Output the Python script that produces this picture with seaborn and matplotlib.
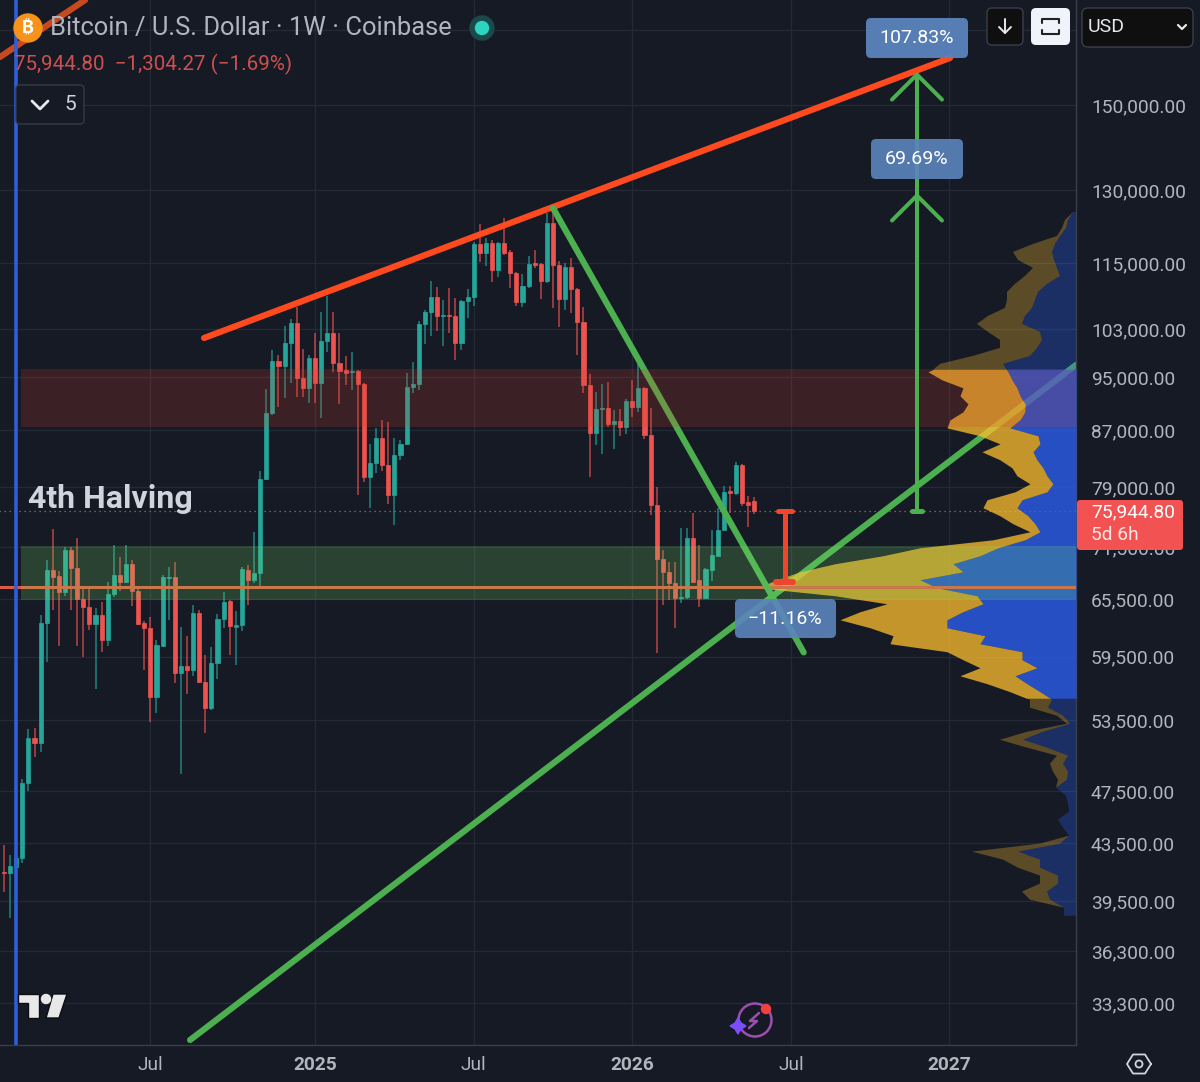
import numpy as np
import matplotlib
matplotlib.use("Agg")
import matplotlib.pyplot as plt
import matplotlib.patches as mp
import seaborn as sb

BG = "#161a25"
GRID = "#252935"
AXIS = "#3a3e4a"
TXT = "#b2b5be"
UP = "#26a69a"
DOWN = "#ef5350"
GREEN = "#4caf50"
REDLINE = "#ff4a1f"
LABEL = "#5b84bd"

# weekly candles, first bar is the week of 15 Jan 2024
opens = [41500, 41420, 41840, 42480, 48170, 51930, 51500, 62970, 68820, 68130, 66300, 71170, 69050, 65560, 64690,
         62870, 63830, 61210, 66110, 68250, 67450, 69520, 66450, 62970, 62450, 55630, 60600, 67900, 68020, 57910,
         58600, 58200, 64040, 57050, 54620, 58900, 63400, 65340, 62550, 62760, 68820, 67680, 68480, 80150, 89530,
         97680, 96870, 100670, 104100, 94940, 93360, 98170, 94150, 101010, 102370, 97350, 96220, 95900, 96060, 93990,
         80430, 82340, 85860, 82060, 78040, 83450, 85000, 93510, 93990, 103930, 106040, 108740, 105330, 105500, 105330,
         100670, 108010, 108740, 118830, 117060, 119030, 113770, 119030, 117250, 113200, 107830, 110760, 115120, 114920, 111690,
         123080, 114730, 108380, 114340, 110200, 104280, 93830, 86580, 90130, 90290, 87900, 88340, 87450, 91350, 90440,
         93360, 86300, 76740, 70100, 68590, 67340, 65670, 65780, 72610, 67680, 65670, 68820, 70460, 73600, 78560,
         78300, 82060, 77130, 77249]
highs = [43420, 42700, 42700, 48490, 52720, 52810, 63830, 69990, 73720, 68700, 71530, 71530, 72610, 66780, 66780,
         64580, 65230, 67450, 71770, 70340, 71770, 69990, 66780, 63180, 63610, 61210, 68250, 69120, 69750, 62550,
         61620, 64900, 64360, 59690, 60500, 63940, 66340, 65450, 64250, 69120, 69400, 73350, 81240, 93200, 99500,
         98670, 103580, 104800, 106930, 99660, 98670, 102370, 106040, 108920, 106040, 102370, 98500, 99160, 96220, 94150,
         85000, 87310, 88490, 88190, 85860, 85500, 95740, 97520, 104450, 106400, 111690, 110570, 108190, 110390, 108560,
         108190, 110200, 119230, 122880, 120030, 119630, 119230, 124120, 117640, 113300, 113010, 116470, 117640, 115120, 125160,
         125160, 115500, 115120, 116080, 110390, 106930, 95580, 92730, 93990, 94310, 89980, 90130, 91660, 94620, 97350,
         93500, 90290, 79090, 71170, 69750, 69750, 73850, 73850, 75710, 71770, 69050, 73600, 76360, 79220, 79220,
         82470, 82200, 77910, 77780]
lows = [40130, 38410, 41630, 42130, 47530, 50320, 50740, 58990, 64360, 60600, 65890, 64360, 60600, 59490, 62240,
        56390, 59990, 60600, 65780, 66450, 67340, 64790, 62760, 58200, 53350, 54160, 60500, 63290, 56950, 48910,
        55910, 57620, 56950, 52370, 54440, 57330, 62450, 59690, 58700, 62140, 64900, 67340, 66780, 80020, 89230,
        90440, 91810, 94150, 91970, 91970, 91040, 91040, 88780, 99160, 95900, 90890, 93830, 93050, 78040, 79760,
        76360, 80970, 81240, 76870, 74220, 82750, 84800, 92580, 93050, 100500, 101860, 102710, 100170, 102370, 97840,
        99500, 104980, 107110, 115310, 114530, 111500, 112440, 116660, 110390, 107110, 106930, 110390, 114150, 108380, 111320,
        106750, 103410, 106400, 105860, 98670, 92580, 80430, 84860, 83590, 87450, 84290, 86150, 86440, 88930, 89680,
        85710, 75470, 59890, 64900, 65450, 62450, 65120, 65560, 67340, 64690, 65560, 67570, 70400, 73550, 75710,
        78040, 76620, 73970, 75600]
closes = [41420, 41910, 42480, 48170, 51930, 51500, 62970, 68820, 68020, 66300, 71170, 69050, 65560, 64690, 62870,
          63830, 61210, 66110, 68250, 67450, 69520, 66450, 62870, 62450, 55630, 60700, 68020, 68020, 57910, 58600,
          58200, 64040, 57050, 54620, 58900, 63400, 65230, 62660, 62760, 68940, 67680, 68480, 80150, 89530, 97680,
          96870, 100670, 104100, 94940, 93360, 98170, 94150, 101010, 102370, 97350, 96060, 95740, 96060, 93990, 80430,
          82340, 85860, 82060, 78040, 83450, 85000, 93510, 93990, 103930, 106040, 108740, 105330, 105500, 105330, 100670,
          108010, 108740, 118830, 117060, 119030, 113770, 119030, 117060, 113200, 107830, 110760, 114920, 114730, 111690, 123080,
          114730, 108380, 114340, 110200, 104280, 93830, 86580, 90130, 90290, 87900, 88340, 87450, 91350, 90440, 93360,
          86300, 76740, 70100, 68590, 67340, 65670, 65780, 72610, 67450, 65670, 68940, 70580, 73600, 78430, 78300,
          82060, 77000, 76740, 75944.8]

# visible range profile, right anchored
profile_levels = [125370, 123700, 122060, 120430, 118830, 117250, 115690, 114150, 112630, 111130, 109650, 108190,
                  106750, 105330, 103930, 102540, 101180, 99830, 98500, 97190, 96360, 95900, 94620, 93360, 92120,
                  90890, 89680, 88490, 87310, 86150, 85000, 83870, 82750, 81650, 80560, 79490, 78430,
                  77390, 76360, 75340, 74340, 73350, 72370, 71410, 70460, 69520, 68590, 67680, 66780,
                  65890, 65010, 64150, 63290, 62450, 61620, 60800, 59990, 59190, 58400, 57620, 56860,
                  56100, 55500, 55350, 54620, 53890, 53170, 52460, 51760, 51080, 50400, 49730, 49070, 48410,
                  47770, 47130, 46500, 45880, 45270, 44670, 44070, 43490, 42910, 42340, 41770, 41220,
                  40670, 40130, 39590, 39060, 38540]
profile_up = [3, 8, 10, 16, 21, 24, 22, 19, 16, 29, 38, 41,
              44, 51, 54, 36, 34, 39, 46, 73, 70, 68, 64, 59, 56,
              51, 51, 56, 66, 38, 36, 43, 39, 33, 29, 23, 29,
              54, 59, 48, 41, 36, 51, 78, 96, 123, 113, 156, 139,
              99, 93, 113, 129, 129, 91, 96, 54, 54, 39, 61, 49,
              36, 26, 24, 28, 13, 6, 33, 53, 29, 8, 13, 8, 9,
              20, 10, 8, 7, 18, 13, 7, 16, 58, 36, 36, 18,
              18, 29, 26, 12, 12]
profile_down = [0, 3, 4, 3, 22, 39, 36, 24, 35, 32, 31, 28,
                27, 37, 45, 52, 42, 37, 57, 63, 72, 80, 70, 54, 60,
                57, 62, 70, 63, 58, 40, 51, 37, 31, 30, 23, 32,
                35, 34, 28, 22, 10, 32, 78, 97, 118, 163, 143, 180,
                142, 96, 103, 107, 77, 92, 90, 75, 59, 57, 55, 40,
                30, 24, 22, 18, 6, 3, 16, 23, 20, 11, 13, 15, 9,
                0, 0, 0, 0, 0, 0, 0, 20, 46, 37, 22, 18,
                18, 25, 20, 0, 0]

# drawings: (bar, price)
resistance_bars = [32.8, 155.1]
resistance_prices = [101500, 162300]
old_line_bars = [-0.66, 13.3]
old_line_prices = [162560, 178860]
drop_bars = [90.0, 131.1]
drop_prices = [126200, 59920]
support_bars = [30.5, 175.74]
support_prices = [31290, 97020]
red_zone = [87430, 96360]
green_zone = [65430, 71620]
level_line = 66870
last_price = 75944.8
halving_bar = 2.03
target_bar = 149.67
target_prices = [157840, 128870]
dip_bar = 128
dip_price = 67470

y_ticks = [170000, 150000, 130000, 115000, 103000, 95000, 87000, 79000, 71500, 65500, 59500, 53500, 47500, 43500, 39500, 36300, 33300]
y_labels = ["", "150,000.00", "130,000.00", "115,000.00", "103,000.00", "95,000.00", "87,000.00", "79,000.00", "71,500.00",
            "65,500.00", "59,500.00", "53,500.00", "47,500.00", "43,500.00", "39,500.00", "36,300.00", "33,300.00"]
x_ticks = [24, 51, 77, 103, 129, 155]
x_labels = ["Jul", "2025", "Jul", "2026", "Jul", "2027"]
right_edge = 175.74
px_per_bar = 6.1

sb.set_theme(style="dark", rc={"figure.facecolor": BG, "axes.facecolor": BG, "savefig.facecolor": BG})
plt.rcParams["font.family"] = ["Roboto", "DejaVu Sans"]

fig = plt.figure(figsize=(12, 10.82), dpi=100)
ax = fig.add_axes([0, 1 - 1045 / 1082, 1076 / 1200, 1045 / 1082])
ax.set_yscale("log")


def line(xs, ys, color, px, z, alpha=1.0, cap="round"):
    sb.lineplot(x=xs, y=ys, ax=ax, color=color, linewidth=px * 0.72, sort=False, estimator=None,
                solid_capstyle=cap, zorder=z, alpha=alpha, legend=False)


# candles
bars = np.arange(len(closes))
o = np.array(opens, dtype=float)
c = np.array(closes, dtype=float)
cols = [UP if c[i] >= o[i] else DOWN for i in bars]
ax.vlines(bars, lows, highs, colors=cols, linewidth=1.1, alpha=0.75, zorder=2)
ax.bar(bars, np.abs(c - o), bottom=np.minimum(o, c), width=0.68, color=cols, linewidth=0.5, edgecolor=cols, zorder=2.1)

# lines below the profile
line(support_bars, support_prices, GREEN, 6.2, 2.5)
ax.hlines(last_price, -1, right_edge, color="#b06a6a", linewidth=0.9, linestyles=(0, (1, 3)), zorder=2.4)

# profile
levels = np.array(profile_levels, dtype=float)
up = np.array(profile_up) / px_per_bar
down = np.array(profile_down) / px_per_bar
inside = (levels <= 96360) & (levels >= 55500)
outside = (levels >= 96360) | (levels <= 55500)
for mask, a in [(inside, 0.75), (outside, 0.3)]:
    ax.fill_betweenx(levels, right_edge, right_edge - up, where=mask, color="#2b62f9", alpha=a, linewidth=0, zorder=3)
    ax.fill_betweenx(levels, right_edge - up, right_edge - up - down, where=mask, color="#ffbf2c", alpha=a, linewidth=0, zorder=3)

ax.hlines(level_line, -1, right_edge, color="#dc5a42", linewidth=2.2, zorder=3.2)

line(resistance_bars, resistance_prices, REDLINE, 6.2, 3.5)
line(old_line_bars, old_line_prices, "#c8491f", 6.2, 3.5)
line(drop_bars, drop_prices, GREEN, 6.2, 3.5)

# zones
ax.fill_between([2.79, right_edge], red_zone[0], red_zone[1], color=(212 / 255, 66 / 255, 42 / 255), alpha=0.2, linewidth=0, zorder=4)
ax.fill_between([2.79, right_edge], green_zone[0], green_zone[1], color=(122 / 255, 231 / 255, 107 / 255), alpha=0.2, linewidth=0, zorder=4)

ax.axvline(halving_bar, color="#2f5ed8", linewidth=2.6, zorder=5)

# target arrow
line([target_bar, target_bar], [last_price, target_prices[0]], GREEN, 4, 6)
line([target_bar - 0.8, target_bar + 0.8], [last_price, last_price], GREEN, 5, 6)
for p in target_prices:
    line([target_bar - 4.1, target_bar, target_bar + 4.1], [p * 0.959, p, p * 0.959], GREEN, 4, 6)

# dip measure
line([dip_bar, dip_bar], [last_price, dip_price], "#f0452c", 5, 6)
line([dip_bar - 1.1, dip_bar + 1.1], [last_price, last_price], "#f0452c", 5, 6)
line([dip_bar - 1.4, dip_bar + 1.4], [dip_price, dip_price], "#f0452c", 6, 6)

ax.set_xlim(-0.656, right_edge)
ax.set_ylim(31030, 178860)
ax.grid(True, color=GRID, linewidth=1)
ax.set_axisbelow(True)
ax.set_xticks(x_ticks)
ax.set_xticklabels(x_labels)
for t, name in zip(ax.get_xticklabels(), x_labels):
    t.set_fontweight("bold" if name != "Jul" else "normal")
ax.yaxis.tick_right()
ax.set_yticks(y_ticks)
ax.set_yticklabels(y_labels)
ax.yaxis.set_minor_locator(matplotlib.ticker.NullLocator())
ax.tick_params(axis="y", length=0, pad=10.8, labelsize=13.8, labelcolor=TXT)
ax.tick_params(axis="x", length=0, pad=8, labelsize=13.8, labelcolor=TXT)
for side in ["top", "left"]:
    ax.spines[side].set_visible(False)
for side in ["right", "bottom"]:
    ax.spines[side].set_color(AXIS)
    ax.spines[side].set_linewidth(1)

# chart furniture, in screen pixels
ui = fig.add_axes([0, 0, 1, 1], zorder=5)
ui.set_xlim(0, 1200)
ui.set_ylim(1082, 0)
ui.axis("off")


def box(x0, y0, x1, y1, face, edge="none", r=5, alpha=1.0):
    ui.add_patch(mp.FancyBboxPatch((x0 + r, y0 + r), x1 - x0 - 2 * r, y1 - y0 - 2 * r, boxstyle="round,pad=%d,rounding_size=%d" % (r, r),
                                   facecolor=face, edgecolor=edge, linewidth=1, alpha=alpha))


box(866, 18, 968, 58, LABEL, alpha=0.95)
ui.text(917, 38, "107.83%", color="white", fontsize=14, ha="center", va="center")
box(871, 139, 963, 179, LABEL, alpha=0.9)
ui.text(917, 159, "69.69%", color="white", fontsize=14, ha="center", va="center")
box(735, 599, 836, 638, LABEL, alpha=0.9)
ui.text(785, 619, "\u221211.16%", color="white", fontsize=14, ha="center", va="center")

ui.text(28, 499, "4th Halving", color="#d1d4dc", fontsize=23, fontweight="bold", ha="left", va="center")

# header
ui.add_patch(mp.Circle((28, 28), 14, color="#f7931a"))
ui.text(28, 28, "\u20bf", color="white", fontsize=13, fontweight="bold", ha="center", va="center",
        family=["Inter", "Noto Sans", "Open Sans", "Liberation Sans", "DejaVu Sans"])
ui.text(50, 28, "Bitcoin / U.S. Dollar \u00b7 1W \u00b7 Coinbase", color=TXT, fontsize=18.4, ha="left", va="center")
ui.add_patch(mp.Circle((482, 28), 12, color="#1b4a4a"))
ui.add_patch(mp.Circle((482, 28), 6.5, color="#2dd4bf"))
ui.text(14, 64, "75,944.80  \u22121,304.27 (\u22121.69%)", color="#cc5050", fontsize=14.9, ha="left", va="center")
box(16, 85, 84, 124, BG, edge="#363a45", r=4)
ui.plot([32, 40, 48], [101, 109, 101], color="#e6e8ee", linewidth=2, solid_capstyle="round")
ui.text(70, 105, "5", color="#d1d4dc", fontsize=15, ha="center", va="center")

# top right buttons
box(987, 8, 1023, 45, "#0f0f10", edge="#3a3e4a", r=5)
ui.plot([1005, 1005], [19, 33], color="#e6e8ee", linewidth=1.4)
ui.plot([999, 1005, 1011], [27, 33, 27], color="#e6e8ee", linewidth=1.4)
box(1031, 8, 1070, 45, "#f0f3fa", r=5)
ui.plot([1042, 1042, 1059, 1059], [23, 19, 19, 23], color="#222", linewidth=1.5)
ui.plot([1042, 1042, 1059, 1059], [30, 34, 34, 30], color="#222", linewidth=1.5)
box(1082, 8, 1193, 47, "#0f0f10", edge="#3a3e4a", r=6)
ui.text(1088, 27, "USD", color="#e6e8ee", fontsize=14, ha="left", va="center")
ui.plot([1178, 1182, 1186], [25, 29, 25], color="#e6e8ee", linewidth=1.6)

# last price tag
box(1077, 500, 1183, 550, "#f25252", r=3)
ui.text(1091, 512, "75,944.80", color="white", fontsize=13.8, ha="left", va="center")
ui.text(1091, 535, "5d 6h", color="#ffe6e6", fontsize=13.8, ha="left", va="center")

# tv logo
for pts in [[(18, 994), (39, 994), (39, 1018), (28, 1018), (28, 1003), (18, 1003)], [(53, 994), (67, 994), (59, 1018), (46, 1018)]]:
    ui.add_patch(mp.Polygon(pts, facecolor="#e8e8e8", edgecolor="#0c0e14", linewidth=1))
ui.add_patch(mp.Circle((46, 999), 4.5, color="#e8e8e8"))

# assistant badge
ui.add_patch(mp.Arc((755, 1020), 33, 33, theta1=0, theta2=360, color="#9c4fb0", linewidth=1.8))
ui.plot([759, 750, 757, 749], [1013, 1021, 1021, 1028], color="#9c4fb0", linewidth=1.8)
ui.add_patch(mp.Polygon([(738, 1018), (741, 1023), (746, 1026), (741, 1029), (738, 1034), (735, 1029), (730, 1026), (735, 1023)], color="#7c4dff"))
ui.add_patch(mp.Circle((766, 1009), 4.5, color="#f04040"))

# settings hexagon
ang = np.radians([0, 60, 120, 180, 240, 300, 360])
ui.plot(1139 + 12 * np.cos(ang), 1064 + 11 * np.sin(ang), color="#d1d4dc", linewidth=1.3)
ui.add_patch(mp.Circle((1139, 1064), 3.5, fill=False, edgecolor="#d1d4dc", linewidth=1.3))

fig.savefig("out.png", dpi=100, facecolor=BG)
